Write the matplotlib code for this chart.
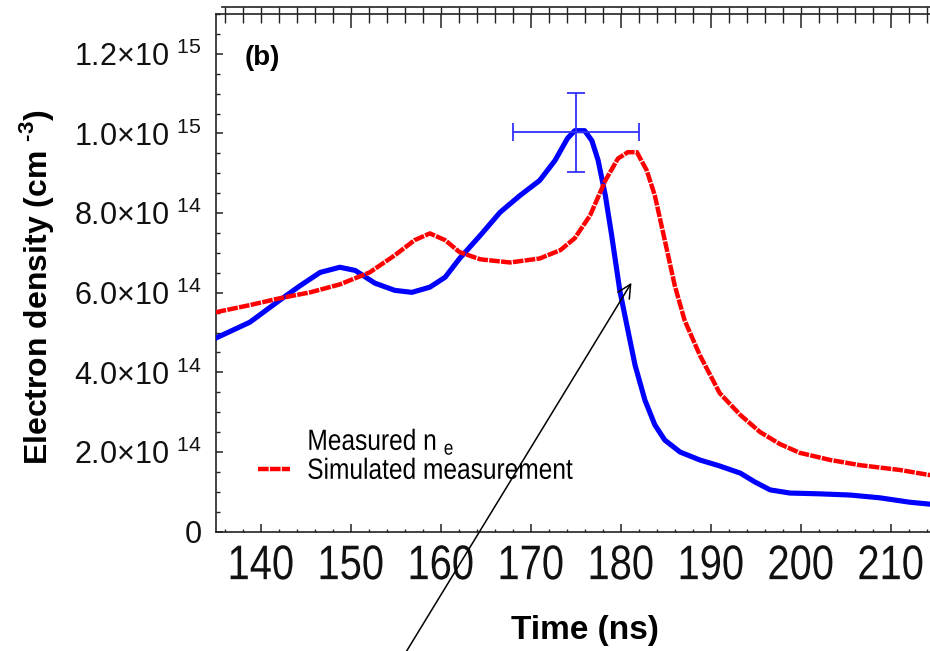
import matplotlib
matplotlib.use("Agg")
import matplotlib.pyplot as plt
from matplotlib.lines import Line2D
from matplotlib.patheffects import AbstractPathEffect
from matplotlib.transforms import Affine2D
from matplotlib.ticker import MultipleLocator, FixedLocator, FuncFormatter

plt.rcParams['mathtext.fontset'] = 'custom'
plt.rcParams['mathtext.rm'] = 'Liberation Sans'
plt.rcParams['mathtext.bf'] = 'Liberation Sans:bold'
plt.rcParams['font.family'] = ['Liberation Sans', 'DejaVu Sans']

# measured electron density (blue), units of 1e14 cm^-3
t_meas = [135.0, 138.8, 142.1, 144.4, 146.6, 148.8, 150.5, 152.7, 154.9, 156.8,
          158.8, 160.5, 162.1, 164.4, 166.6, 168.8, 171.0, 172.7, 174.1, 174.9,
          176.0, 176.8, 177.5, 178.3, 179.0, 179.9, 180.8, 181.6, 182.7, 183.8,
          184.9, 186.6, 188.8, 191.0, 193.3, 194.9, 196.6, 198.8, 202.1, 205.5,
          208.8, 212.1, 214.4]
n_meas = [4.86, 5.26, 5.81, 6.18, 6.51, 6.64, 6.56, 6.24, 6.06, 6.01,
          6.14, 6.39, 6.86, 7.44, 8.02, 8.44, 8.82, 9.32, 9.88, 10.07,
          10.07, 9.82, 9.32, 8.44, 7.44, 6.06, 5.06, 4.18, 3.30, 2.68,
          2.30, 2.00, 1.80, 1.65, 1.47, 1.25, 1.05, 0.97, 0.95, 0.92,
          0.85, 0.74, 0.69]

# simulated measurement (red)
t_sim = [135.0, 138.8, 142.1, 145.5, 148.8, 152.1, 154.9, 157.1, 158.8, 160.5,
         162.1, 164.4, 167.7, 171.0, 173.3, 174.9, 176.6, 178.3, 179.7, 180.8,
         181.8, 182.9, 183.8, 184.9, 186.0, 187.1, 188.8, 191.0, 193.3, 195.5,
         197.7, 199.9, 203.3, 206.6, 211.0, 214.4]
n_sim = [5.51, 5.69, 5.86, 6.01, 6.21, 6.51, 6.94, 7.32, 7.49, 7.32,
         7.02, 6.84, 6.76, 6.86, 7.07, 7.37, 7.94, 8.82, 9.37, 9.53,
         9.53, 9.07, 8.44, 7.32, 6.19, 5.31, 4.43, 3.48, 2.93, 2.50,
         2.20, 1.98, 1.80, 1.67, 1.55, 1.42]

# error bar on the measured peak
err_t, err_n = 175.0, 10.03
err_dt, err_dn = 7.0, 0.99

# arrow (start below the axes, tip on the curve)
arrow_from = (155.4, -3.3)
arrow_to = (181.2, 6.25)

xticks = [140, 150, 160, 170, 180, 190, 200, 210]
yticks = [0, 2, 4, 6, 8, 10, 12]

red_dashes = (2.4, 0.28)


class Squeeze(AbstractPathEffect):
    '''
    Draws text narrower, like a condensed font
    '''
    def __init__(self, sx=0.82, anchor='center'):
        super().__init__()
        self.sx = sx
        self.anchor = anchor

    def draw_path(self, renderer, gc, tpath, affine, rgbFace=None):
        ext = tpath.get_extents()
        x0 = ext.x0 if self.anchor == 'left' else 0.5 * (ext.x0 + ext.x1)
        sq = Affine2D().translate(-x0, 0).scale(self.sx, 1).translate(x0, 0)
        renderer.draw_path(gc, tpath, sq + affine, rgbFace)


def ytick_fmt(v, pos):
    if abs(v) < 1e-9:
        return "0"
    if v >= 10:
        return "%.1f×10 $^{15}$" % (v / 10)
    return "%.1f×10 $^{14}$" % v


fig = plt.figure(figsize=(9.3, 6.51), dpi=100)
ax = fig.add_axes([0.2319, 0.1833, 0.7681, 0.7952])

ax.plot(t_meas, n_meas, color='#0000ff', lw=3.7, solid_joinstyle='round',
        label="Measured n $_{\\mathrm{e}}$", zorder=3)
ax.plot(t_sim, n_sim, color='#ff0000', lw=3.2, dashes=red_dashes,
        label="Simulated measurement", zorder=4)
ax.errorbar([err_t], [err_n], xerr=[err_dt], yerr=[err_dn], color='#3030ff',
            lw=1.3, capsize=6.5, capthick=1.3, zorder=5)

ax.annotate("", xy=arrow_to, xytext=arrow_from, xycoords='data', textcoords='data',
            annotation_clip=False,
            arrowprops=dict(arrowstyle='->', color='black', lw=1.1,
                            mutation_scale=24, shrinkA=0, shrinkB=0))

ax.set_xlim(135, 214.37)
ax.set_ylim(0, 13)

ax.xaxis.set_major_locator(FixedLocator(xticks))
ax.xaxis.set_minor_locator(MultipleLocator(2))
ax.yaxis.set_major_locator(FixedLocator(yticks))
ax.yaxis.set_minor_locator(MultipleLocator(0.5))
ax.yaxis.set_major_formatter(FuncFormatter(ytick_fmt))

ax.spines['right'].set_visible(False)
for s in ['left', 'bottom', 'top']:
    ax.spines[s].set_linewidth(1.2)
    ax.spines[s].set_color('#222222')

ax.tick_params(axis='x', which='major', direction='in', length=5.5, width=1.1,
               pad=9, labelsize=35, colors='#222222', labelcolor='#111111')
ax.tick_params(axis='x', which='minor', direction='in', length=2, width=1.0,
               colors='#222222')
ax.tick_params(axis='y', which='major', direction='in', length=5, width=1.1,
               pad=10, labelsize=22, colors='#222222', labelcolor='#111111')
ax.tick_params(axis='y', which='minor', direction='in', length=3, width=1.0,
               colors='#222222')
for lab in ax.get_xticklabels():
    lab.set_path_effects([Squeeze(0.82)])

# top axis: long ticks every 10 ns, short every 2 ns
top = ax.secondary_xaxis('top')
top.xaxis.set_major_locator(FixedLocator([150, 160, 170, 180, 190, 200, 210]))
top.xaxis.set_minor_locator(MultipleLocator(2))
top.tick_params(which='major', direction='in', length=10, width=1.1, labeltop=False,
                colors='#222222')
top.tick_params(which='minor', direction='in', length=6.5, width=1.0, colors='#222222')
top.spines['top'].set_visible(False)

# second line above the frame, with ticks hanging down to the frame
cap = fig.add_axes([0.2384, 0.9785, 0.7616, 0.0107])
cap.set_xlim(135 + (221.7 - 215.7) / 9.0, 214.37)
cap.patch.set_visible(False)
for s in ['left', 'right', 'bottom']:
    cap.spines[s].set_visible(False)
cap.spines['top'].set_linewidth(1.2)
cap.spines['top'].set_color('#222222')
cap.xaxis.set_major_locator(MultipleLocator(2))
cap.tick_params(axis='x', which='major', direction='in', length=5, width=1.0,
                top=True, bottom=False, labelbottom=False, colors='#222222')
cap.set_yticks([])

handles = [Line2D([], [], linestyle='none'),
           Line2D([], [], color='#ff0000', lw=3.2, dashes=red_dashes)]
leg = ax.legend(handles, ["Measured n $_{\\mathrm{e}}$", "Simulated measurement"],
                loc='upper left', bbox_to_anchor=(258 / 930, 1 - 426 / 651),
                bbox_transform=fig.transFigure, frameon=False, borderpad=0,
                borderaxespad=0, handlelength=1.1, handletextpad=0.58,
                labelspacing=0.0, prop={'size': 21})
for txt in leg.get_texts():
    txt.set_path_effects([Squeeze(0.84, 'left')])

fig.text(36 / 930, 1 - 287 / 651, "Electron density (cm $^{\\mathbf{\u2010 3}}$)",
         rotation=90, ha='center', va='center', fontsize=23, fontweight='bold')
fig.text(585 / 930, 1 - 639.3 / 651, "Time (ns)", ha='center', va='baseline',
         fontsize=24, fontweight='bold')
fig.text(262 / 930, 1 - 58 / 651, "(b)", ha='center', va='center',
         fontsize=20, fontweight='bold')

fig.savefig("out.png", dpi=100)
